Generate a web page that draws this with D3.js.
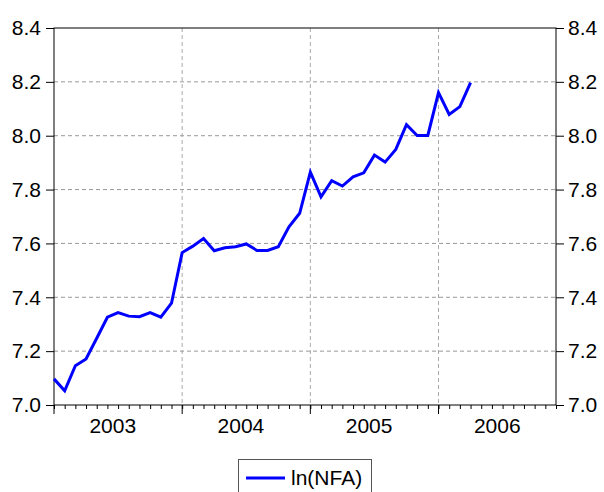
<!DOCTYPE html>
<html>
<head>
<meta charset="utf-8">
<script src="https://cdn.jsdelivr.net/npm/d3@7"></script>
<style>
  body { margin: 0; background: #fff; }
  text { font-family: "Liberation Sans", Arial, sans-serif; fill: #000; }
</style>
</head>
<body>
<script>
// monthly observations, Jan 2003 .. Apr 2006
const lnNFA = [
  7.097, 7.053, 7.146, 7.171, 7.248, 7.326, 7.343, 7.330, 7.328, 7.343, 7.326, 7.378,
  7.566, 7.590, 7.618, 7.573, 7.584, 7.588, 7.598, 7.574, 7.574, 7.588, 7.662, 7.712,
  7.865, 7.773, 7.833, 7.813, 7.847, 7.862, 7.928, 7.902, 7.949, 8.041, 8.001, 8.001,
  8.160, 8.079, 8.108, 8.197
];
const yTicks = [7.0, 7.2, 7.4, 7.6, 7.8, 8.0, 8.2, 8.4];
const years = [2003, 2004, 2005, 2006];
const seriesName = "ln(NFA)";

const W = 604, H = 492;
const plotL = 54, plotR = 556, plotT = 28, plotB = 405;
const fontSize = "21px";

const svg = d3.select("body").append("svg")
    .attr("width", W).attr("height", H);

// x in month index since Jan 2003
const x = d3.scaleLinear().domain([0, 47]).range([plotL, plotR]);
const y = d3.scaleLinear().domain([7.0, 8.4]).range([plotB, plotT]);

// grid
svg.append("g")
  .selectAll("line")
  .data(yTicks.filter(d => d > 7.0 && d < 8.4))
  .join("line")
    .attr("x1", plotL).attr("x2", plotR)
    .attr("y1", d => y(d)).attr("y2", d => y(d))
    .attr("stroke", "#999").attr("stroke-dasharray", "4,3");

svg.append("g")
  .selectAll("line")
  .data(years.slice(1))
  .join("line")
    .attr("x1", d => x((d - 2003) * 12)).attr("x2", d => x((d - 2003) * 12))
    .attr("y1", plotT).attr("y2", plotB)
    .attr("stroke", "#aaa").attr("stroke-dasharray", "4,3");

// frame
svg.append("rect")
    .attr("x", plotL).attr("y", plotT)
    .attr("width", plotR - plotL).attr("height", plotB - plotT)
    .attr("fill", "none").attr("stroke", "#000").attr("stroke-width", 1);

// y axes both sides
const yAxisL = d3.axisLeft(y).tickValues(yTicks).tickFormat(d3.format(".1f")).tickSize(8).tickPadding(5);
const yAxisR = d3.axisRight(y).tickValues(yTicks).tickFormat(d3.format(".1f")).tickSize(8).tickPadding(4);

svg.append("g").attr("transform", `translate(${plotL},0)`).call(yAxisL)
  .call(g => g.select(".domain").remove())
  .call(g => g.selectAll("text").style("font-size", fontSize));
svg.append("g").attr("transform", `translate(${plotR},0)`).call(yAxisR)
  .call(g => g.select(".domain").remove())
  .call(g => g.selectAll("text").style("font-size", fontSize));

// x axis: monthly minor ticks, longer ticks at year starts
svg.append("g").attr("transform", `translate(0,${plotB})`).call(
    d3.axisBottom(x).tickValues(d3.range(48)).tickSize(4).tickFormat("")
  ).call(g => g.select(".domain").remove());

svg.append("g")
  .selectAll("line")
  .data(years)
  .join("line")
    .attr("x1", d => x((d - 2003) * 12)).attr("x2", d => x((d - 2003) * 12))
    .attr("y1", plotB).attr("y2", plotB + 9)
    .attr("stroke", "#000");

svg.append("g")
  .selectAll("text")
  .data(years)
  .join("text")
    .attr("x", d => x((d - 2003) * 12 + 5.5))
    .attr("y", plotB + 28)
    .attr("text-anchor", "middle")
    .style("font-size", fontSize)
    .text(d => d);

// series
const line = d3.line()
    .x((d, i) => x(i))
    .y(d => y(d));

svg.append("path")
    .datum(lnNFA)
    .attr("d", line)
    .attr("fill", "none")
    .attr("stroke", "#0000ff")
    .attr("stroke-width", 3)
    .attr("stroke-linejoin", "miter");

// legend
const lg = svg.append("g");
lg.append("rect")
    .attr("x", 238.5).attr("y", 459.5)
    .attr("width", 133).attr("height", 40)
    .attr("fill", "#fff").attr("stroke", "#555");
lg.append("line")
    .attr("x1", 246).attr("x2", 285)
    .attr("y1", 478).attr("y2", 478)
    .attr("stroke", "#0000ff").attr("stroke-width", 3);
lg.append("text")
    .attr("x", 291).attr("y", 485)
    .style("font-size", fontSize)
    .text(seriesName);
</script>
</body>
</html>
